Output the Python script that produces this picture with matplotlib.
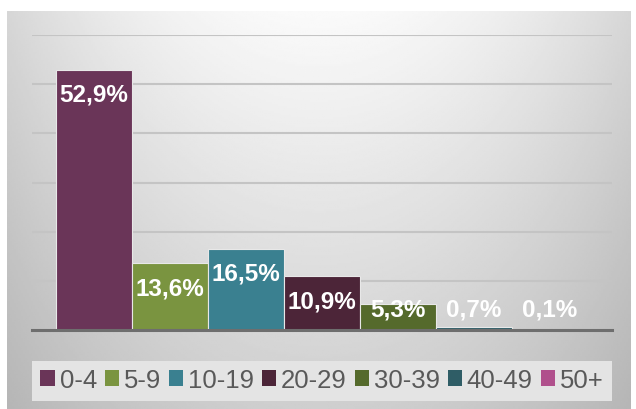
import numpy as np
import matplotlib.pyplot as plt
from matplotlib.patches import Patch, Rectangle

plt.rcParams['font.family'] = ['Liberation Sans', 'DejaVu Sans']

grupes = ["0-4", "5-9", "10-19", "20-29", "30-39", "40-49", "50+"]
procentai = [52.9, 13.6, 16.5, 10.9, 5.3, 0.7, 0.1]
etiketes = ["52,9%", "13,6%", "16,5%", "10,9%", "5,3%", "0,7%", "0,1%"]
spalvos = ["#6a3558", "#7a9440", "#3a8090", "#4c2538", "#556a2c", "#2f5d66", "#b0508c"]

W, H = 636, 410
fig = plt.figure(figsize=(W / 100, H / 100), dpi=100)
fig.patch.set_facecolor("white")

# fonas su gradientu
bg = fig.add_axes([7 / W, 0, (631 - 7) / W, (H - 12) / H])
yy, xx = np.mgrid[0:1:200j, 0:1:300j]
val = 0.98 - 0.17 * yy - 0.14 * (np.abs(xx - 0.5) * 2) ** 2 * (1 - 0.3 * yy)
bg.imshow(val, cmap="gray", vmin=0, vmax=1, aspect="auto", extent=(0, 1, 0, 1), origin="upper")
bg.axis("off")

# legendos dezute
fig.patches.append(Rectangle((32 / W, 8 / H), 580 / W, 40 / H, transform=fig.transFigure,
                             facecolor="#e4e4e4", edgecolor="none", zorder=1))

ax = fig.add_axes([32 / W, (H - 331) / H, 580 / W, (331 - 36) / H])
ax.patch.set_alpha(0)
x = np.arange(len(grupes))
ax.bar(x, procentai, width=1.0, color=spalvos, edgecolor="#e8e8e8", linewidth=0.8, zorder=3)
ax.set_xlim(-0.5 - 24 / 76, 6.5 + 24 / 76)
ax.set_ylim(0, 60)
for g in range(10, 61, 10):
    ax.axhline(g, color="#c4c4c4", lw=1.5, zorder=1)
ax.axhline(0, color="#6e6e6e", lw=2.2, zorder=4, clip_on=False)
for s in ax.spines.values():
    s.set_visible(False)
ax.set_xticks([])
ax.set_yticks([])

for i, v in enumerate(procentai):
    ax.text(i, max(v - 5, 4.3), etiketes[i], ha="center", va="center", color="white",
            fontsize=17.5, fontweight="bold", zorder=5)

handles = [Patch(facecolor=c, edgecolor="none") for c in spalvos]
leg = fig.legend(handles, grupes, loc="center", bbox_to_anchor=(322 / W, 29 / H), ncol=7,
                 frameon=False, fontsize=18.5, handlelength=0.55, handleheight=0.55,
                 handletextpad=0.2, columnspacing=0.3, labelcolor="#595959",
                 borderaxespad=0, borderpad=0)

fig.savefig("out.png", dpi=100)
